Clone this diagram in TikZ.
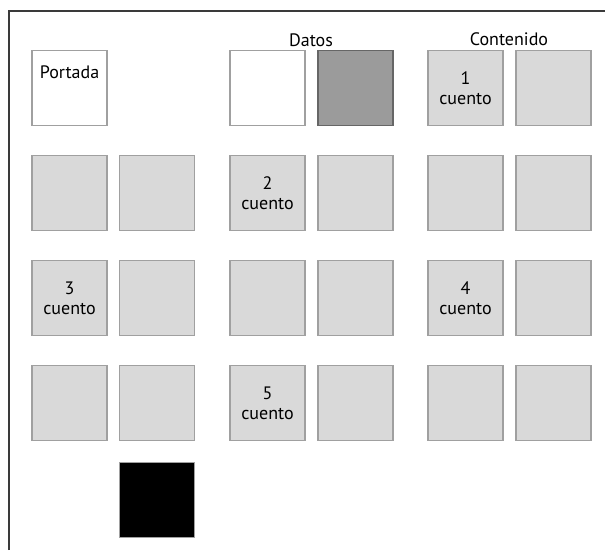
\documentclass[tikz,border=0pt]{standalone}
\usepackage{fontspec}
\setmainfont{PT Sans}
\definecolor{gris}{HTML}{D9D9D9}
\definecolor{borde}{HTML}{A0A0A0}
\definecolor{oscuro}{HTML}{9B9B9B}
\definecolor{marco}{HTML}{3A3A3A}
\tikzset{
  caja/.style={draw=borde, line width=1.2pt, fill=gris, minimum width=75pt, minimum height=75pt, inner sep=0pt, align=center},
  blanco/.style={caja, fill=white},
  gris oscuro/.style={caja, fill=oscuro, draw=black!60},
  negro/.style={caja, fill=black},
}
\begin{document}
\begin{tikzpicture}[x=1pt, y=-1pt, font=\fontsize{18}{20}\selectfont]
        \useasboundingbox (0,0) rectangle (605,550);
        % Marco
        \draw[marco, line width=1.5pt] (9,550) -- (9,11) -- (605,11);

        % Títulos
        \node (datos) at (311,40) {Datos};
        \node (contenido) at (509,39) {Contenido};

        % Fila 1
        \node[blanco] (portada) at (69.5,88) {};
        \node (tportada) at (69.5,72) {Portada};
        \node[blanco] (d1) at (267.5,88) {};
        \node[gris oscuro] (d2) at (355.5,88) {};
        \node[caja] (c1) at (465.5,88) {1\\cuento};
        \node[caja] (c1b) at (553.5,88) {};

        % Fila 2
        \node[caja] (f2a) at (69.5,193) {};
        \node[caja] (f2b) at (157,193) {};
        \node[caja] (c2) at (267.5,193) {2\\cuento};
        \node[caja] (f2d) at (355.5,193) {};
        \node[caja] (f2e) at (465.5,193) {};
        \node[caja] (f2f) at (553.5,193) {};

        % Fila 3
        \node[caja] (c3) at (69.5,298) {3\\cuento};
        \node[caja] (f3b) at (157,298) {};
        \node[caja] (f3c) at (267.5,298) {};
        \node[caja] (f3d) at (355.5,298) {};
        \node[caja] (c4) at (465.5,298) {4\\cuento};
        \node[caja] (f3f) at (553.5,298) {};

        % Fila 4
        \node[caja] (f4a) at (69.5,403) {};
        \node[caja] (f4b) at (157,403) {};
        \node[caja] (c5) at (267.5,403) {5\\cuento};
        \node[caja] (f4d) at (355.5,403) {};
        \node[caja] (f4e) at (465.5,403) {};
        \node[caja] (f4f) at (553.5,403) {};

        % Contraportada
        \node[negro] (contra) at (157,500) {};
\end{tikzpicture}
\end{document}
